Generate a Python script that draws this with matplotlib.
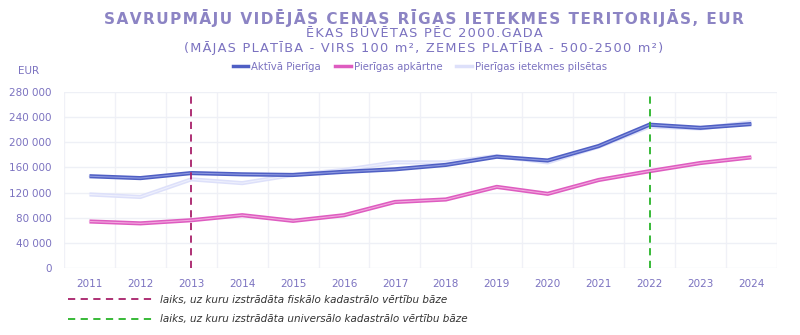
import matplotlib
matplotlib.use('Agg')
import matplotlib.pyplot as plt
from matplotlib.lines import Line2D
from matplotlib.ticker import FuncFormatter, MultipleLocator

years = list(range(2011, 2025))
aktiva = [146000, 143000, 151000, 149000, 148000, 153000, 157000, 164000, 177000, 171000, 194000, 228000, 223000, 229000]
apkartne = [74000, 71000, 76000, 84000, 75000, 84000, 105000, 109000, 129000, 118000, 140000, 154000, 167000, 176000]
pilsetas = [117000, 113000, 141000, 135000, 148000, 156000, 168000, 168000, 178000, 168000, 193000, 225000, 222000, 232000]
series_names = ['Aktīvā Pierīga', 'Pierīgas apkārtne', 'Pierīgas ietekmes pilsētas']
fiscal_year = 2013
universal_year = 2022

txt = '#7b72c0'
c_akt = '#4f5fc4'
c_apk = '#de5cc0'
c_pil = '#dde0fa'


def spaced(s):
    # fake letter spacing with hair spaces
    return '\u200a'.join(s)


fig = plt.figure(figsize=(8, 3.35), dpi=100)
ax = fig.add_axes([0.08, 0.2, 0.891, 0.5254])

# double-line look: coloured body with lighter centre
for vals, col, inner in [(pilsetas, c_pil, '#eef0fd'), (aktiva, c_akt, '#8e9ae0'), (apkartne, c_apk, '#f2a8de')]:
    ax.plot(years, vals, color=col, lw=3.0, solid_capstyle='butt', zorder=3)
    ax.plot(years, vals, color=inner, lw=0.8, zorder=3)

ax.axvline(fiscal_year, color='#a8206a', lw=1.3, ls=(0, (4, 3)), zorder=4)
ax.axvline(universal_year, color='#28b428', lw=1.3, ls=(0, (4, 3)), zorder=4)

ax.set_xlim(2010.5, 2024.5)
ax.set_ylim(0, 280000)
ax.set_xticks(years)
ax.xaxis.set_minor_locator(MultipleLocator(1, offset=0.5))
ax.yaxis.set_major_locator(MultipleLocator(40000))
ax.yaxis.set_major_formatter(FuncFormatter(lambda v, p: f'{int(v):,}'.replace(',', ' ')))
ax.grid(True, axis='y', color='#eef0f6', lw=1)
ax.grid(True, axis='x', which='minor', color='#f0f1f7', lw=1)
ax.set_axisbelow(True)
for s in ax.spines.values():
    s.set_visible(False)
ax.tick_params(axis='both', which='both', length=0, colors=txt, labelsize=7.5)
ax.tick_params(axis='x', pad=8)
ax.tick_params(axis='y', pad=9)

fig.text(0.53, 0.947, spaced('SAVRUPMĀJU VIDĒJĀS CENAS RĪGAS IETEKMES TERITORIJĀS, EUR'),
         ha='center', va='center', color='#8c84c4', fontsize=11, fontweight='bold')
fig.text(0.53, 0.9, spaced('ĒKAS BŪVĒTAS PĒC 2000.GADA'), ha='center', va='center', color=txt, fontsize=9.3)
fig.text(0.53, 0.857, spaced('(MĀJAS PLATĪBA - VIRS 100 m², ZEMES PLATĪBA - 500-2500 m²)'),
         ha='center', va='center', color=txt, fontsize=9.3)
fig.text(0.036, 0.787, 'EUR', ha='center', va='center', color=txt, fontsize=7.5)

handles = [Line2D([], [], color=c, lw=2.5) for c in (c_akt, c_apk, c_pil)]
fig.legend(handles, series_names, loc='center', bbox_to_anchor=(0.525, 0.8), ncol=3,
           frameon=False, fontsize=7.3, handlelength=1.5, handletextpad=0.3, columnspacing=1.4,
           labelcolor=txt)

bottom = [Line2D([], [], color='#a8206a', lw=1.3, ls=(0, (4, 3))),
          Line2D([], [], color='#28b428', lw=1.3, ls=(0, (4, 3)))]
leg2 = fig.legend(bottom, ['laiks, uz kuru izstrādāta fiskālo kadastrālo vērtību bāze',
                           'laiks, uz kuru izstrādāta universālo kadastrālo vērtību bāze'],
                  loc='upper left', bbox_to_anchor=(0.078, 0.135), frameon=False,
                  handlelength=8.2, fontsize=7.5, labelspacing=0.9, handletextpad=0.7, borderpad=0)
for t in leg2.get_texts():
    t.set_fontstyle('italic')
    t.set_color('#333333')

fig.savefig('out.png', dpi=100)
